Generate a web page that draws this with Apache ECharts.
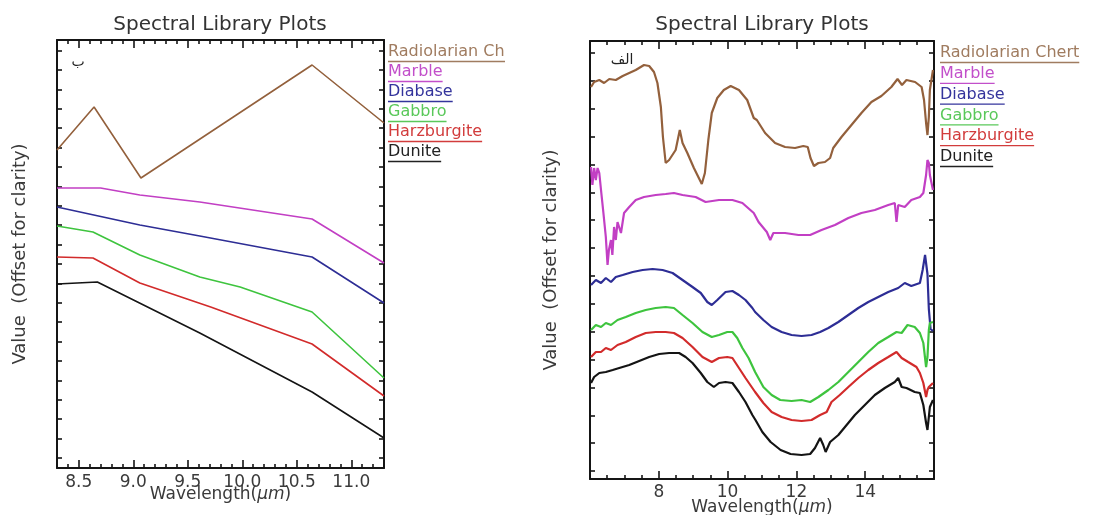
<!DOCTYPE html>
<html><head><meta charset="utf-8">
<script src="https://cdn.jsdelivr.net/npm/echarts@6/dist/echarts.min.js"></script>
<style>html,body{margin:0;padding:0;background:#fff}#c{width:1093px;height:515px}</style>
</head><body><div id="c"></div>
<script>
// ---------- names / colours ----------
const SERIES_NAMES = ['Radiolarian Chert', 'Marble', 'Diabase', 'Gabbro', 'Harzburgite', 'Dunite'];
const LINE_COLORS = ['#93603c', '#c23fc4', '#2d2d95', '#3ec43e', '#d22b2b', '#141414'];
const TEXT_COLORS = ['#a07c60', '#c24fca', '#34349c', '#5ac85a', '#d23c3c', '#222222'];

// ---------- left panel (ب) : wavelength µm, offset value ----------
const leftChert    = [[8.30,31.8],[8.64,36.1],[9.07,29.0],[10.64,40.3],[11.30,34.5]];
const leftMarble   = [[8.30,28.0],[8.70,28.0],[9.06,27.3],[9.61,26.6],[10.64,24.9],[11.30,20.5]];
const leftDiabase  = [[8.30,26.1],[9.06,24.3],[9.61,23.2],[10.64,21.1],[11.30,16.5]];
const leftGabbro   = [[8.30,24.2],[8.63,23.6],[9.06,21.3],[9.61,19.1],[9.98,18.1],[10.64,15.6],[11.30,9.0]];
const leftHarz     = [[8.30,21.1],[8.63,21.0],[9.06,18.5],[9.71,16.1],[10.64,12.4],[11.30,7.2]];
const leftDunite   = [[8.30,18.4],[8.67,18.6],[9.61,13.5],[10.64,7.6],[11.30,3.0]];

// ---------- right panel (الف) ----------
const rightChert = [[6.03,39.2],[6.12,39.7],[6.27,39.9],[6.41,39.6],[6.56,40.0],[6.75,39.9],[6.95,40.3],[7.14,40.6],[7.33,40.9],[7.57,41.4],[7.72,41.3],[7.86,40.7],[7.96,39.6],[8.06,37.2],[8.12,34.2],[8.20,31.6],[8.30,31.9],[8.49,32.9],[8.61,34.9],[8.69,33.6],[8.83,32.6],[9.02,31.1],[9.25,29.5],[9.34,30.6],[9.44,33.9],[9.54,36.6],[9.70,38.1],[9.89,38.9],[10.09,39.3],[10.33,38.9],[10.57,37.9],[10.76,36.1],[10.85,35.9],[11.09,34.6],[11.38,33.6],[11.67,33.2],[11.96,33.1],[12.20,33.3],[12.33,33.2],[12.41,32.1],[12.51,31.3],[12.64,31.6],[12.83,31.7],[12.98,32.1],[13.07,33.1],[13.31,34.2],[13.60,35.4],[13.89,36.6],[14.18,37.7],[14.47,38.3],[14.76,39.2],[14.94,40.0],[15.07,39.4],[15.20,39.9],[15.45,39.7],[15.64,39.2],[15.71,37.9],[15.77,35.6],[15.81,34.4],[15.85,36.2],[15.88,38.9],[15.97,40.9]];
const rightMarble = [[6.03,31.2],[6.07,29.4],[6.12,31.1],[6.17,29.9],[6.22,31.1],[6.27,30.6],[6.32,28.9],[6.39,26.6],[6.46,24.2],[6.51,21.4],[6.55,22.9],[6.61,23.9],[6.65,22.4],[6.70,25.2],[6.75,23.9],[6.80,25.7],[6.85,25.9],[6.90,24.6],[6.99,26.6],[7.14,27.2],[7.33,27.9],[7.57,28.2],[7.91,28.4],[8.20,28.5],[8.44,28.6],[8.69,28.4],[9.07,28.2],[9.36,27.7],[9.75,27.9],[10.14,27.9],[10.43,27.6],[10.76,26.6],[10.90,25.7],[11.14,24.7],[11.24,23.9],[11.33,24.6],[11.67,24.6],[12.06,24.4],[12.40,24.4],[12.73,24.9],[13.12,25.4],[13.51,26.1],[13.89,26.6],[14.28,26.9],[14.67,27.4],[14.86,27.6],[14.91,25.7],[14.96,27.4],[15.15,27.2],[15.34,27.9],[15.59,28.2],[15.69,28.6],[15.77,30.4],[15.81,31.9],[15.85,31.6],[15.88,30.4],[15.97,28.9]];
const rightDiabase = [[6.03,19.4],[6.17,19.9],[6.32,19.6],[6.46,20.1],[6.61,19.7],[6.75,20.2],[6.95,20.4],[7.24,20.7],[7.53,20.9],[7.82,21.0],[8.11,20.9],[8.40,20.6],[8.69,19.9],[8.98,19.2],[9.22,18.6],[9.41,17.7],[9.54,17.4],[9.70,17.9],[9.94,18.7],[10.14,18.8],[10.33,18.4],[10.52,17.9],[10.72,17.1],[10.80,16.7],[11.04,15.9],[11.28,15.2],[11.57,14.7],[11.86,14.4],[12.15,14.3],[12.44,14.4],[12.69,14.7],[12.93,15.1],[13.22,15.7],[13.51,16.4],[13.80,17.1],[14.09,17.7],[14.38,18.2],[14.67,18.7],[14.96,19.1],[15.15,19.6],[15.34,19.3],[15.59,19.6],[15.67,20.9],[15.74,22.4],[15.77,22.6],[15.81,20.5],[15.85,17.0],[15.90,15.0],[15.97,14.8]];
const rightGabbro = [[6.03,14.9],[6.17,15.4],[6.32,15.2],[6.46,15.6],[6.61,15.4],[6.80,15.9],[7.04,16.2],[7.33,16.6],[7.62,16.9],[7.91,17.1],[8.20,17.2],[8.44,17.1],[8.69,16.4],[8.98,15.6],[9.27,14.7],[9.54,14.2],[9.75,14.4],[9.99,14.7],[10.14,14.7],[10.28,14.1],[10.43,13.1],[10.61,12.1],[10.80,10.7],[11.04,9.2],[11.28,8.4],[11.53,7.9],[11.86,7.8],[12.15,7.9],[12.40,7.7],[12.64,8.2],[12.93,8.9],[13.22,9.7],[13.51,10.7],[13.80,11.7],[14.09,12.7],[14.38,13.6],[14.67,14.2],[14.91,14.7],[15.06,14.6],[15.23,15.4],[15.44,15.2],[15.59,14.6],[15.69,13.6],[15.77,11.2],[15.81,12.2],[15.85,14.9],[15.88,15.6],[15.97,15.7]];
const rightHarz = [[6.03,12.2],[6.17,12.7],[6.32,12.7],[6.46,13.1],[6.61,12.9],[6.80,13.4],[7.04,13.7],[7.33,14.2],[7.62,14.6],[7.91,14.7],[8.20,14.7],[8.44,14.6],[8.69,14.1],[8.98,13.2],[9.27,12.2],[9.54,11.7],[9.75,12.1],[9.99,12.2],[10.14,12.1],[10.33,11.1],[10.52,10.1],[10.72,9.1],[10.80,8.7],[11.04,7.6],[11.28,6.7],[11.57,6.2],[11.86,5.9],[12.15,5.8],[12.44,5.9],[12.69,6.4],[12.88,6.7],[13.02,7.7],[13.26,8.4],[13.51,9.2],[13.80,10.1],[14.09,10.9],[14.38,11.6],[14.67,12.2],[14.91,12.7],[15.06,12.1],[15.25,11.7],[15.49,11.2],[15.59,10.6],[15.69,9.6],[15.77,8.2],[15.81,8.9],[15.85,9.2],[15.88,9.4],[15.97,9.6]];
const rightDunite = [[6.03,9.6],[6.12,10.2],[6.27,10.6],[6.46,10.7],[6.66,10.9],[6.85,11.1],[7.14,11.4],[7.43,11.8],[7.72,12.2],[8.01,12.5],[8.30,12.6],[8.59,12.6],[8.78,12.2],[8.98,11.6],[9.22,10.6],[9.41,9.7],[9.60,9.2],[9.75,9.6],[9.94,9.7],[10.14,9.6],[10.33,8.7],[10.52,7.7],[10.72,6.4],[10.81,5.9],[11.01,4.7],[11.25,3.7],[11.54,2.9],[11.83,2.5],[12.15,2.4],[12.40,2.5],[12.54,3.1],[12.69,4.1],[12.78,3.4],[12.85,2.7],[12.98,3.7],[13.22,4.4],[13.46,5.4],[13.70,6.4],[13.99,7.4],[14.28,8.4],[14.57,9.1],[14.86,9.7],[14.96,10.1],[15.06,9.2],[15.20,9.1],[15.44,8.7],[15.59,8.6],[15.69,7.4],[15.77,5.6],[15.81,4.9],[15.85,6.2],[15.88,7.2],[15.97,7.9]];

// ---------- tick labels ----------
const LEFT_X_LABELS = [8.5, 9.0, 9.5, 10.0, 10.5, 11.0];
const RIGHT_X_LABELS = [8, 10, 12, 14];
const TITLE = 'Spectral Library Plots';
const X_NAME = 'Wavelength';
const Y_NAME = 'Value  (Offset for clarity)';
const PANEL_MARKS = ['ب', 'الف'];

// ---------- helpers ----------
const FONT = '"DejaVu Sans", "Noto Sans", sans-serif';
function range(a, b, step) { const r = []; const n = Math.round((b - a) / step); for (let i = 0; i <= n; i++) r.push(+(a + i * step).toFixed(3)); return r; }
function notIn(list, set) { return list.filter(v => !set.some(s => Math.abs(s - v) < 1e-6)); }

const LEFT_X_MINOR = notIn(range(8.3, 11.3, 0.1), LEFT_X_LABELS);
const RIGHT_X_MINOR = notIn(range(6, 16, 0.5), RIGHT_X_LABELS);
const LEFT_Y_TICKS = range(1.0, 1.0 + 1.94 * 21, 1.94);
const RIGHT_Y_TICKS = range(0.8, 0.8 + 2.787 * 15, 2.787);

const AX = '#151515';
function xAxes(grid, min, max, major, minor, fmt, margin, nameGap) {
  const base = (pos, ticks, len, withLabel, lineShow) => ({
    type: 'value', gridIndex: grid, min, max, position: pos,
    axisLine: { show: lineShow, onZero: false, lineStyle: { color: AX, width: 2 } },
    axisTick: { show: true, inside: true, length: len, customValues: ticks, lineStyle: { color: AX, width: 1.6 } },
    axisLabel: withLabel ? { show: true, customValues: major, formatter: fmt, color: '#3a3a3a', fontSize: 17, fontFamily: FONT, margin } : { show: false },
    splitLine: { show: false },
    name: withLabel ? X_NAME + '({i|μm})' : '',
    nameLocation: 'middle', nameGap, nameMoveOverlap: false,
    nameTextStyle: { color: '#3a3a3a', fontSize: 17, fontFamily: FONT, rich: { i: { fontStyle: 'italic', fontSize: 17, fontFamily: FONT, color: '#3a3a3a' } } }
  });
  return [base('bottom', major, 8, true, true), base('bottom', minor, 4, false, false),
          base('top', major, 8, false, true), base('top', minor, 4, false, false)];
}
function yAxes(grid, max, ticks, nameGap) {
  const base = (pos, named) => ({
    type: 'value', gridIndex: grid, min: 0, max, position: pos,
    axisLine: { show: true, onZero: false, lineStyle: { color: AX, width: 2 } },
    axisTick: { show: true, inside: true, length: 5, customValues: ticks, lineStyle: { color: AX, width: 1.6 } },
    axisLabel: { show: false }, splitLine: { show: false },
    name: named ? Y_NAME : '', nameLocation: 'middle', nameGap, nameRotate: 90, nameMoveOverlap: false,
    nameTextStyle: { color: '#3a3a3a', fontSize: 18, fontFamily: FONT }
  });
  return [base('left', true), base('right', false)];
}

const leftData = [leftChert, leftMarble, leftDiabase, leftGabbro, leftHarz, leftDunite];
const rightData = [rightChert, rightMarble, rightDiabase, rightGabbro, rightHarz, rightDunite];

const series = [];
leftData.forEach((d, i) => series.push({ type: 'line', name: SERIES_NAMES[i], xAxisIndex: 0, yAxisIndex: 0, data: d, symbol: 'none', lineStyle: { color: LINE_COLORS[i], width: 1.6 }, z: 3 }));
rightData.forEach((d, i) => series.push({ type: 'line', name: SERIES_NAMES[i], xAxisIndex: 4, yAxisIndex: 2, data: d, symbol: 'none', lineStyle: { color: LINE_COLORS[i], width: 2.2 }, z: 3 }));

// legend as text with underline (graphic)
const ctx = document.createElement('canvas').getContext('2d');
const LEG_FONT = '16px "DejaVu Sans"';
ctx.font = LEG_FONT;
function legendEls(x0, y0, dy) {
  const els = [];
  SERIES_NAMES.forEach((n, i) => {
    const y = y0 + i * dy;
    const w = ctx.measureText(n).width;
    els.push({ type: 'text', x: x0, y, z: 10, style: { text: n, fill: TEXT_COLORS[i], font: LEG_FONT, textAlign: 'left', textVerticalAlign: 'middle' } });
    els.push({ type: 'line', z: 10, shape: { x1: x0, y1: y + 9.5, x2: x0 + w, y2: y + 9.5 }, style: { stroke: TEXT_COLORS[i], lineWidth: 1.3 } });
  });
  return els;
}
const TITLE_FONT = '20px "DejaVu Sans"';
const graphic = [
  { type: 'text', x: 220, y: 25, style: { text: TITLE, fill: '#333', font: TITLE_FONT, textAlign: 'center', textVerticalAlign: 'middle' } },
  { type: 'text', x: 762, y: 25, style: { text: TITLE, fill: '#333', font: TITLE_FONT, textAlign: 'center', textVerticalAlign: 'middle' } },
  { type: 'text', x: 78, y: 62, style: { text: PANEL_MARKS[0], fill: '#222', font: '14px "DejaVu Sans"', textAlign: 'center', textVerticalAlign: 'middle' } },
  { type: 'text', x: 622, y: 60, style: { text: PANEL_MARKS[1], fill: '#222', font: '14px "DejaVu Sans"', textAlign: 'center', textVerticalAlign: 'middle' } },
  ...legendEls(388, 52, 20),
  ...legendEls(940, 53, 20.8),
  { type: 'rect', z: 50, shape: { x: 505, y: 40, width: 34, height: 26 }, style: { fill: '#fff' } }
];

const chart = echarts.init(document.getElementById('c'), null, { renderer: 'canvas' });
chart.setOption({
  animation: false,
  backgroundColor: '#fff',
  grid: [
    { left: 57, top: 40, width: 327, height: 428, containLabel: false, outerBoundsMode: 'none' },
    { left: 590, top: 41, width: 344, height: 438, containLabel: false, outerBoundsMode: 'none' }
  ],
  xAxis: [
    ...xAxes(0, 8.3, 11.3, LEFT_X_LABELS, LEFT_X_MINOR, v => v.toFixed(1), 6, 18),
    ...xAxes(1, 6, 16, RIGHT_X_LABELS, RIGHT_X_MINOR, v => String(Math.round(v)), 5, 20)
  ],
  yAxis: [
    ...yAxes(0, 42.8, LEFT_Y_TICKS, 28),
    ...yAxes(1, 43.8, RIGHT_Y_TICKS, 30)
  ],
  series,
  graphic
});
</script></body></html>
